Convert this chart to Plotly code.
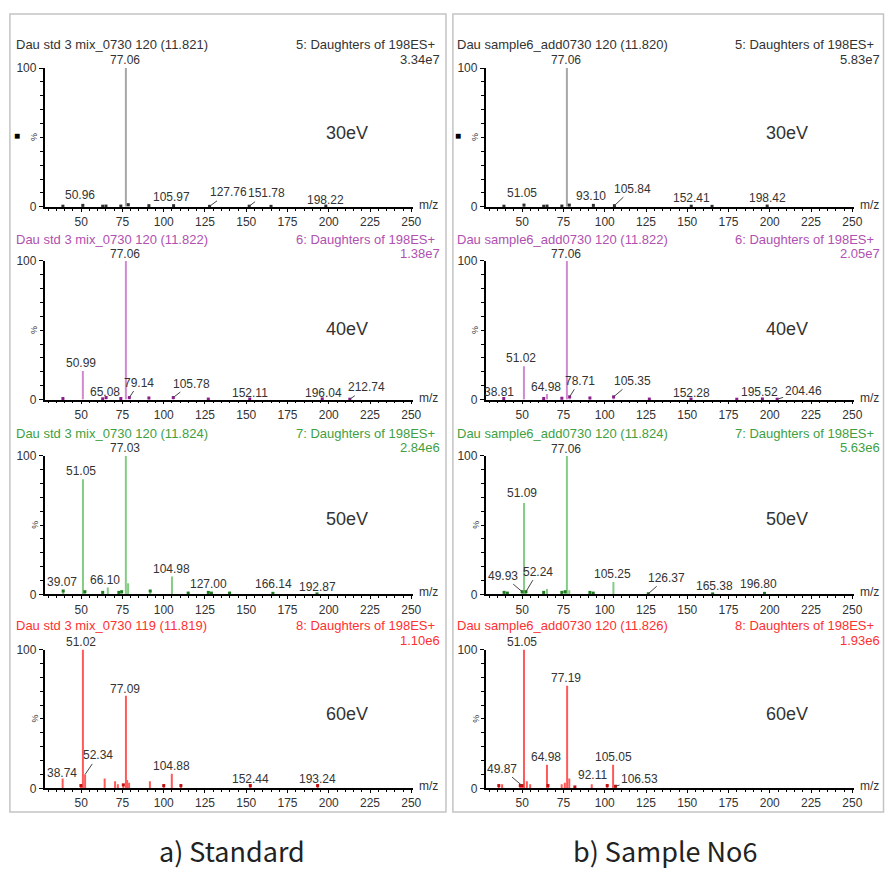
import plotly.graph_objects as go

W, H = 893, 876

# ---------------- data ----------------
energies = ["30eV", "40eV", "50eV", "60eV"]
captions = ["a) Standard", "b) Sample No6"]

std_titles = ["Dau std 3 mix_0730 120 (11.821)", "Dau std 3 mix_0730 120 (11.822)",
              "Dau std 3 mix_0730 120 (11.824)", "Dau std 3 mix_0730 119 (11.819)"]
smp_titles = ["Dau sample6_add0730 120 (11.820)", "Dau sample6_add0730 120 (11.822)",
              "Dau sample6_add0730 120 (11.824)", "Dau sample6_add0730 120 (11.826)"]
functions = ["5: Daughters of 198ES+", "6: Daughters of 198ES+",
             "7: Daughters of 198ES+", "8: Daughters of 198ES+"]
std_tic = ["3.34e7", "1.38e7", "2.84e6", "1.10e6"]
smp_tic = ["5.83e7", "2.05e7", "5.63e6", "1.93e6"]

# peak lists (m/z, relative intensity %)
std30_mz = [38.9, 50.96, 63.0, 65.0, 74.0, 77.06, 78.5, 91.0, 105.97, 127.76, 151.78, 165.0, 198.22]
std30_int = [0.4, 1.0, 0.4, 0.5, 0.5, 100, 1.5, 0.8, 0.8, 0.3, 0.4, 0.3, 0.5]
smp30_mz = [38.9, 51.05, 63.0, 65.0, 74.0, 77.06, 78.5, 93.10, 105.84, 152.41, 165.0, 198.42]
smp30_int = [0.4, 1.2, 0.4, 0.5, 0.5, 100, 1.2, 1.0, 0.8, 0.4, 0.3, 0.5]

std40_mz = [38.9, 50.99, 63.0, 65.08, 74.0, 77.06, 79.14, 91.0, 105.78, 127.0, 152.11, 196.04, 212.74]
std40_int = [0.8, 20.6, 0.6, 1.5, 0.8, 100, 1.5, 1.2, 1.5, 0.4, 0.4, 0.5, 0.3]
smp40_mz = [38.81, 51.02, 63.0, 64.98, 74.0, 77.06, 78.71, 91.0, 105.35, 127.0, 152.28, 180.0, 195.52, 204.46]
smp40_int = [0.8, 24, 0.8, 4, 1.0, 100, 2.0, 1.2, 2.0, 0.4, 0.4, 0.3, 0.5, 0.3]

std50_mz = [39.07, 51.05, 52.2, 63.0, 66.10, 72.8, 74.5, 77.03, 78.4, 91.8, 104.98, 114.8, 127.00, 128.9, 139.9, 166.14, 192.87]
std50_int = [2.5, 83, 2.0, 1.5, 5, 1.5, 2, 100, 8, 2.5, 13, 1.0, 1.5, 1.0, 1.0, 0.8, 0.4]
smp50_mz = [39.0, 41.0, 49.93, 51.09, 52.24, 63.0, 65.0, 74.0, 76.0, 77.06, 78.5, 91.0, 93.0, 105.25, 126.37, 165.38, 196.80]
smp50_int = [1.5, 1.0, 2.0, 66, 2.0, 1.5, 4, 1.5, 2, 100, 3, 1.5, 1.0, 9, 0.5, 0.4, 0.8]

std60_mz = [38.74, 49.8, 51.02, 52.34, 64.2, 70.5, 72.2, 75.5, 77.09, 77.8, 79.0, 91.6, 100.0, 104.88, 110.4, 152.44, 193.24]
std60_int = [7, 2, 100, 10, 7, 5, 3, 2.5, 66.7, 6, 4, 5, 2, 10.5, 2, 2, 2]
smp60_mz = [35.8, 37.8, 48.8, 49.87, 51.05, 52.8, 54.8, 64.98, 65.6, 73.9, 75.8, 77.19, 78.5, 81.9, 92.11, 101.5, 105.05, 106.53]
smp60_int = [2, 3, 2, 2, 100, 5, 3, 17, 2, 3, 4, 74, 7, 1, 3, 2, 17, 1.5]

panels = [
    [(std30_mz, std30_int), (smp30_mz, smp30_int)],
    [(std40_mz, std40_int), (smp40_mz, smp40_int)],
    [(std50_mz, std50_int), (smp50_mz, smp50_int)],
    [(std60_mz, std60_int), (smp60_mz, smp60_int)],
]

# labelled peaks per panel: m/z values
std_labels = [[77.06, 50.96, 105.97, 127.76, 151.78, 198.22],
              [77.06, 50.99, 65.08, 79.14, 105.78, 152.11, 196.04, 212.74],
              [77.03, 51.05, 39.07, 66.10, 104.98, 127.00, 166.14, 192.87],
              [51.02, 77.09, 38.74, 52.34, 104.88, 152.44, 193.24]]
smp_labels = [[77.06, 51.05, 93.10, 105.84, 152.41, 198.42],
              [77.06, 51.02, 38.81, 64.98, 78.71, 105.35, 152.28, 195.52, 204.46],
              [77.06, 51.09, 49.93, 52.24, 105.25, 126.37, 165.38, 196.80],
              [51.05, 77.19, 64.98, 105.05, 49.87, 92.11, 106.53]]

# ---------------- style / placement ----------------
# label placement: (dx px, dy px (down), leader line)
std_place = [
    [(-1, -8, 0), (-3, -10, 0), (-2, -9, 0), (19, -14, 1), (17, -13, 1), (0, -6, 0)],
    [(-1, -7, 0), (-2, -8, 0), (-1, -6, 0), (10, -15, 1), (18, -14, 1), (0, -6, 0), (1, -6, 0), (17, -12, 1)],
    [(-1, -8, 0), (-2, -8, 0), (-1, -9, 0), (-3, -8, 0), (0, -7, 0), (0, -8, 0), (1, -9, 0), (0, -7, 0)],
    [(-2, -8, 0), (-1, -7, 0), (-1, -6, 0), (13, -19, 1), (0, -8, 0), (0, -7, 0), (0, -7, 0)],
]
smp_place = [
    [(-1, -8, 0), (-2, -12, 0), (-2, -9, 0), (18, -17, 1), (0, -8, 0), (0, -8, 0)],
    [(-1, -7, 0), (-3, -8, 0), (-5, -7, 0), (-1, -7, 0), (10, -16, 1), (19, -16, 1), (0, -6, 0), (-3, -7, 0), (26, -8, 1)],
    [(-1, -7, 0), (-2, -10, 0), (-19, -16, 1), (12, -20, 1), (-1, -8, 0), (18, -16, 1), (2, -8, 0), (-6, -9, 0)],
    [(-2, -8, 0), (-1, -8, 0), (-1, -8, 0), (0, -8, 0), (-20, -17, 1), (1, -9, 0), (24, -7, 1)],
]

peak_colors = ["#A8A8A8", "#D08BD0", "#84CC84", "#FF5A5A"]
dot_colors = ["#303030", "#8A1E8A", "#1F7A1F", "#C01010"]
head_colors = ["#333333", "#B050B0", "#3FA03F", "#FF3030"]
FONT = "Arial, Liberation Sans, sans-serif"
TXT = "#333333"
LAB_SIZE = 12
HEAD_SIZE = 13
TICK_SIZE = 12

row_px = [(62, 203), (258, 399), (456, 597), (653, 794)]
col_px = [(45, 417), (490, 862)]
XR = [27.8, 251.2]

fig = go.Figure()
annotations = []
shapes = []


def px(x):
    return x / W


def py(y):
    return 1 - y / H


idx = 0
for r in range(4):
    for c in range(2):
        idx += 1
        sfx = "" if idx == 1 else str(idx)
        xa, ya = "x" + sfx, "y" + sfx
        mz, inten = panels[r][c]
        xs, ys = [], []
        for m, v in zip(mz, inten):
            xs += [m, m, None]
            ys += [0, v, None]
        fig.add_trace(go.Scatter(x=xs, y=ys, mode="lines", xaxis=xa, yaxis=ya,
                                 line=dict(color=peak_colors[r], width=2),
                                 showlegend=False, hoverinfo="skip"))
        # small peaks drawn as dark blips at the baseline
        sm = [(m, v) for m, v in zip(mz, inten) if v < 3]
        fig.add_trace(go.Scatter(x=[m for m, v in sm], y=[v for m, v in sm], mode="markers",
                                 xaxis=xa, yaxis=ya, cliponaxis=False,
                                 marker=dict(color=dot_colors[r], size=3, symbol="square"),
                                 showlegend=False, hoverinfo="skip"))
        x0, x1 = col_px[c]
        yt, yb = row_px[r]
        fig.layout["xaxis" + sfx] = dict(
            domain=[px(x0), px(x1)], anchor=ya, range=XR,
            showline=True, linecolor="black", linewidth=1.5, showgrid=False, zeroline=False,
            ticks="outside", ticklen=3, tickwidth=1, tickcolor="black",
            tickvals=[50, 75, 100, 125, 150, 175, 200, 225, 250],
            tickfont=dict(family=FONT, size=TICK_SIZE, color=TXT),
            minor=dict(ticks="outside", ticklen=2, dtick=5, tick0=0, tickcolor="black"),
            fixedrange=True)
        fig.layout["yaxis" + sfx] = dict(
            domain=[py(yb), py(yt)], anchor=xa, range=[0, 100],
            showline=True, linecolor="black", linewidth=1.5, showgrid=False, zeroline=False,
            ticks="outside", ticklen=4, tickwidth=1, tickcolor="black",
            tickvals=[0, 100], ticktext=["0", "100"],
            tickfont=dict(family=FONT, size=TICK_SIZE, color=TXT),
            minor=dict(ticks="outside", ticklen=3, dtick=10, tick0=0, tickcolor="black"),
            fixedrange=True)

        # peak labels
        labs = std_labels[r] if c == 0 else smp_labels[r]
        plc = std_place[r] if c == 0 else smp_place[r]
        lookup = dict(zip(mz, inten))
        for m, (dx, dy, arrow) in zip(labs, plc):
            v = lookup[m]
            base = dict(x=m, y=v, xref=xa, yref=ya, text=f"{m:.2f}",
                        font=dict(family=FONT, size=LAB_SIZE, color=TXT))
            if arrow:
                annotations.append(dict(base, showarrow=True, arrowhead=0, arrowwidth=1,
                                        arrowcolor="#444444", ax=dx, ay=dy, standoff=0))
            else:
                annotations.append(dict(base, showarrow=False, xanchor="center",
                                        yanchor="middle", xshift=dx, yshift=-dy))

        # headers
        lx = 14 if c == 0 else 459
        rx = 441 if c == 0 else 884
        rx2 = 446 if c == 0 else 890
        title = std_titles[r] if c == 0 else smp_titles[r]
        tic = std_tic[r] if c == 0 else smp_tic[r]
        hy = [38, 236, 433, 629][r]
        annotations.append(dict(x=px(lx), y=py(hy), xref="paper", yref="paper", text=title,
                                showarrow=False, xanchor="left", yanchor="middle",
                                font=dict(family=FONT, size=HEAD_SIZE, color=head_colors[r])))
        annotations.append(dict(x=px(rx), y=py(hy), xref="paper", yref="paper", text=functions[r],
                                showarrow=False, xanchor="right", yanchor="middle",
                                font=dict(family=FONT, size=HEAD_SIZE, color=head_colors[r])))
        annotations.append(dict(x=px(rx2), y=py(hy + 15), xref="paper", yref="paper", text=tic,
                                showarrow=False, xanchor="right", yanchor="middle",
                                font=dict(family=FONT, size=HEAD_SIZE, color=head_colors[r])))
        # energy label
        ex = 350 if c == 0 else 794
        ey = [128, 327, 520, 718][r]
        annotations.append(dict(x=px(ex), y=py(ey), xref="paper", yref="paper", text=energies[r],
                                showarrow=False, xanchor="center", yanchor="middle",
                                font=dict(family=FONT, size=18, color=TXT)))
        # m/z label
        annotations.append(dict(x=px(x1 + 15), y=py(yb - 2), xref="paper", yref="paper", text="m/z",
                                showarrow=False, xanchor="center", yanchor="middle",
                                font=dict(family=FONT, size=12, color=TXT)))
        # % label
        annotations.append(dict(x=px(x0 - 10), y=py((yt + yb) / 2), xref="paper", yref="paper",
                                text="%", textangle=-90, showarrow=False, xanchor="center",
                                yanchor="middle", font=dict(family=FONT, size=9, color=TXT)))
        if r == 0:
            annotations.append(dict(x=px(x0 - 28), y=py(131), xref="paper", yref="paper",
                                    text="■", showarrow=False, xanchor="center", yanchor="middle",
                                    font=dict(family=FONT, size=10, color="black")))

# frames
for (a, b) in [(10, 450), (457, 891.5)]:
    shapes.append(dict(type="rect", xref="paper", yref="paper", x0=px(a), x1=px(b),
                       y0=py(818), y1=py(7), line=dict(color="#C4C4C4", width=1.5)))

# captions
for cx, cap in zip([234, 671], captions):
    annotations.append(dict(x=px(cx), y=py(857), xref="paper", yref="paper", text=cap,
                            showarrow=False, xanchor="center", yanchor="middle",
                            font=dict(family="Noto Sans CJK JP, sans-serif", size=27, color="#222222")))

fig.update_layout(width=W, height=H, margin=dict(l=0, r=0, t=0, b=0),
                  paper_bgcolor="white", plot_bgcolor="white",
                  annotations=annotations, shapes=shapes, showlegend=False)

fig.write_html("out.html", config={"displayModeBar": False},
               post_script="document.body.style.margin='0px';document.body.style.overflow='hidden';")
